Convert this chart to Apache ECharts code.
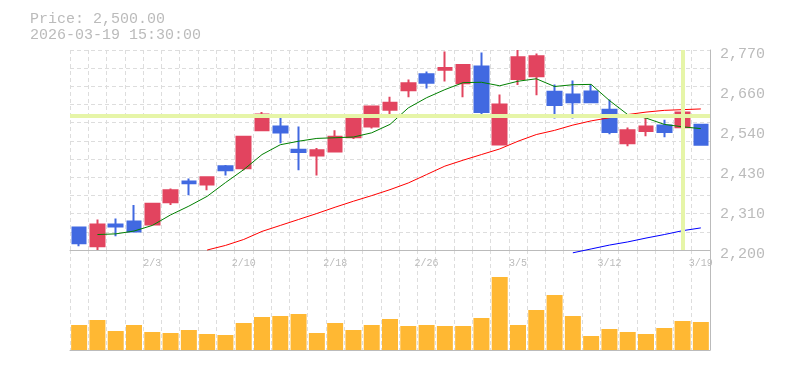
<!DOCTYPE html>
<html>
<head>
<meta charset="utf-8">
<script src="https://cdn.jsdelivr.net/npm/echarts@6/dist/echarts.min.js"></script>
<style>
html,body{margin:0;padding:0;background:#fff;}
#c{width:785px;height:370px;}
</style>
</head>
<body>
<div id="c"></div>
<script>
var dates = ['1/28','1/29','1/30','2/2','2/3','2/4','2/5','2/6','2/9','2/10','2/12','2/13','2/16','2/17','2/18','2/19','2/20','2/24','2/25','2/26','2/27','3/2','3/3','3/4','3/5','3/6','3/9','3/10','3/11','3/12','3/13','3/16','3/17','3/18','3/19'];
// [open, close, low, high]
var ohlc = [
  [2264,2219,2211,2267],[2211,2273,2200,2287],[2273,2267,2239,2290],[2281,2253,2253,2328],
  [2273,2332,2272,2333],[2336,2370,2328,2375],[2395,2390,2356,2404],[2387,2407,2370,2410],
  [2439,2427,2412,2442],[2433,2523,2427,2524],[2541,2586,2541,2593],[2552,2535,2504,2580],
  [2486,2479,2427,2552],[2469,2484,2412,2491],[2481,2523,2481,2541],[2521,2578,2516,2580],
  [2552,2609,2546,2609],[2600,2620,2578,2637],[2655,2675,2635,2686],[2701,2677,2660,2709],
  [2714,2719,2680,2766],[2675,2727,2635,2730],[2723,2593,2578,2763],[2501,2615,2498,2643],
  [2687,2749,2670,2770],[2695,2752,2641,2760],[2651,2613,2575,2672],[2643,2621,2575,2683],
  [2652,2621,2621,2672],[2600,2536,2530,2629],[2504,2541,2496,2549],[2539,2552,2524,2576],
  [2555,2536,2521,2571],[2550,2592,2541,2600],[2557,2500,2500,2557]
];
var ma5 = [null,2244,2246,2254,2270,2300,2325,2353,2392,2429,2472,2500,2510,2518,2520,2522,2534,2558,2605,2634,2657,2677,2678,2668,2681,2688,2666,2671,2672,2626,2586,2576,2558,2551,2546];
var ma25 = [null,null,null,null,null,null,null,2200,2213,2230,2253,2270,2287,2304,2322,2339,2355,2372,2391,2415,2439,2456,2472,2488,2510,2529,2541,2556,2568,2577,2586,2593,2598,2600,2602];
var ma75 = [null,null,null,null,null,null,null,null,null,null,null,null,null,null,null,null,null,null,null,null,null,null,null,null,null,null,null,2192,2203,2214,2223,2234,2244,2255,2263];
var volume = [250000,300000,190000,250000,180000,170000,200000,160000,150000,270000,330000,340000,360000,170000,270000,200000,250000,310000,240000,250000,240000,240000,320000,730000,250000,400000,550000,340000,140000,210000,180000,160000,220000,290000,280000];
var priceTicks = ['2,200','2,310','2,430','2,540','2,660','2,770'];
var crossDate = '3/18';
var crossPrice = 2584;
var headerText = 'Price: 2,500.00\n2026-03-19 15:30:00';

var FONT = 'Liberation Mono';
var GRAY = '#bbbbbb';
var DASH = {color:'#dddddd', width:1, type:[4,3]};

var chart = echarts.init(document.getElementById('c'), null, {renderer:'canvas'});
chart.setOption({
  animation:false,
  backgroundColor:'#ffffff',
  title:[{
    text: headerText, left:30, top:11, padding:0,
    textStyle:{fontFamily:FONT, fontSize:15, fontWeight:'normal', color:GRAY, lineHeight:16}
  }],
  grid:[
    {left:70, right:75, top:50, height:200, containLabel:false},
    {left:70, right:75, top:250, bottom:20, containLabel:false}
  ],
  xAxis:[
    {type:'category', gridIndex:0, data:dates, boundaryGap:true,
     axisLine:{show:true, lineStyle:{color:GRAY, width:1}},
     axisTick:{show:false, interval:0},
     axisLabel:{interval:function(i){return i%5===4;}, fontFamily:FONT, fontSize:10, color:GRAY, margin:8},
     splitLine:{show:true, interval:0, lineStyle:DASH}},
    {type:'category', gridIndex:1, data:dates, boundaryGap:true,
     axisLine:{show:true, lineStyle:{color:GRAY, width:1}},
     axisTick:{show:false, interval:0},
     axisLabel:{show:false},
     splitLine:{show:true, interval:0, lineStyle:DASH}}
  ],
  yAxis:[
    {type:'value', gridIndex:0, min:2200, max:2770, show:false},
    {type:'value', gridIndex:0, min:0, max:5, interval:1, position:'right',
     axisLine:{show:true, lineStyle:{color:GRAY, width:1}},
     axisTick:{show:false},
     axisLabel:{fontFamily:FONT, fontSize:15, color:GRAY, margin:10,
       verticalAlign:'top', lineHeight:8,
       formatter:function(v){return priceTicks[v];}},
     splitLine:{show:false}},
    {type:'value', gridIndex:0, min:0, max:11, interval:1, position:'left',
     axisLine:{show:false}, axisTick:{show:false}, axisLabel:{show:false},
     splitLine:{show:true, lineStyle:DASH}},
    {type:'value', gridIndex:1, min:0, max:1000000, position:'right',
     axisLine:{show:true, lineStyle:{color:GRAY, width:1}},
     axisTick:{show:false}, axisLabel:{show:false}, splitLine:{show:false}}
  ],
  series:[
    {type:'line', xAxisIndex:0, yAxisIndex:0, data:[], z:1, silent:true,
     markLine:{silent:true, symbol:['none','none'], label:{show:false},
       lineStyle:{color:'#e6f5a8', width:4, type:'solid'},
       emphasis:{disabled:true},
       data:[{xAxis:crossDate},{yAxis:crossPrice}]}},
    {type:'candlestick', xAxisIndex:0, yAxisIndex:0, data:ohlc, barWidth:14, z:3,
     itemStyle:{color:'#e2445f', color0:'#4169e1', borderColor:'#e2445f', borderColor0:'#4169e1', borderWidth:2}},
    {type:'line', xAxisIndex:0, yAxisIndex:0, data:ma5, symbol:'none', z:4, clip:false,
     lineStyle:{color:'#008000', width:1}},
    {type:'line', xAxisIndex:0, yAxisIndex:0, data:ma25, symbol:'none', z:4, clip:false,
     lineStyle:{color:'#ff0000', width:1}},
    {type:'line', xAxisIndex:0, yAxisIndex:0, data:ma75, symbol:'none', z:4, clip:false,
     lineStyle:{color:'#0000ff', width:1}},
    {type:'bar', xAxisIndex:1, yAxisIndex:3, data:volume, barWidth:16,
     itemStyle:{color:'#ffb833'}}
  ]
});
</script>
</body>
</html>
